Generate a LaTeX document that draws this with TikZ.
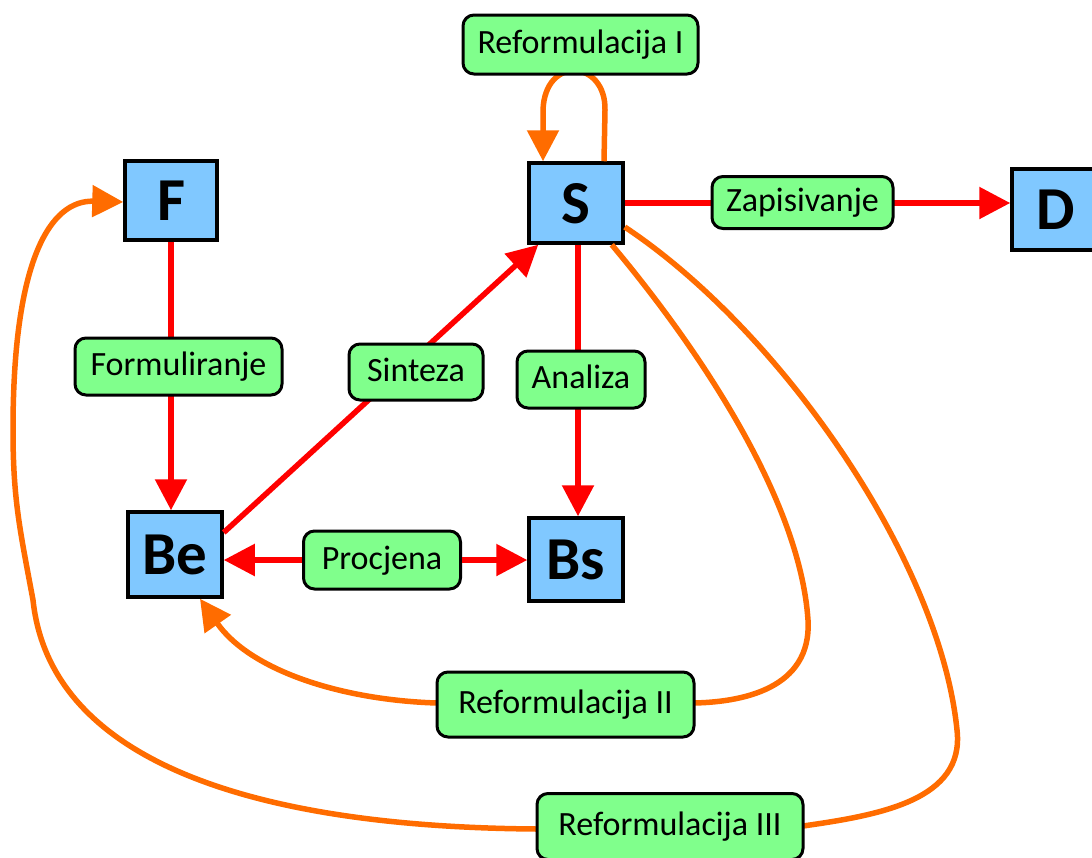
\documentclass[tikz,border=0pt]{standalone}
\usepackage{fontspec}
\setmainfont{Carlito}
\usetikzlibrary{arrows.meta}
\definecolor{boxblue}{RGB}{128,200,255}
\definecolor{labgreen}{RGB}{128,255,140}
\definecolor{arrred}{RGB}{255,0,0}
\definecolor{arrorange}{RGB}{255,108,0}
\tikzset{
  box/.style={draw=black, line width=3.5pt, fill=boxblue, inner sep=0pt,
    font=\bfseries\fontsize{61}{61}\selectfont, text height=40pt, text depth=0pt},
  lab/.style={draw=black, line width=3pt, fill=labgreen, rounded corners=11pt, inner sep=0pt,
    font=\fontsize{34}{37}\selectfont, text height=24pt, text depth=6pt},
  redline/.style={draw=arrred, line width=5.5pt},
  orline/.style={draw=arrorange, line width=5.5pt},
  tipr/.style={-{Triangle[length=31pt,width=31pt]}},
}
\begin{document}
\begin{tikzpicture}[x=1pt,y=-1pt]
\useasboundingbox (0,0) rectangle (1092,857);
% boxes
\node[box, minimum width=92pt, minimum height=79pt] (F) at (171,200.5) {F};
\node[box, minimum width=94pt, minimum height=80pt] (S) at (576,203) {S};
\node[box, minimum width=88pt, minimum height=81pt] (D) at (1056,209.5) {D};
\node[box, minimum width=94pt, minimum height=85pt] (Be) at (175,554.5) {Be};
\node[box, minimum width=94pt, minimum height=83pt] (Bs) at (576,559.5) {Bs};
% red connectors
\draw[redline, tipr] (F.south) -- (F.south |- Be.north);
\draw[redline, tipr] ([yshift=22pt]Be.east) -- ([xshift=11pt]S.south west);
\draw[redline, tipr] ([xshift=2pt]S.south) -- ([xshift=2pt]S.south |- Bs.north);
\draw[redline, tipr] (S.east) -- (D.west |- S.east);
% orange connectors
\draw[orline, tipr] ([xshift=28pt]S.north) -- (605,110) .. controls (606,60) and (545,55) .. (543,110) -- ([xshift=-33pt]S.north);
\draw[orline] ([xshift=-13pt]S.south east) .. controls (700,350) and (800,500) .. (808,620)
   .. controls (812,690) and (740,702) .. (694,703);
\coordinate (r2l) at (437,703);
\draw[orline, tipr] (r2l) .. controls (340,700) and (250,670) .. ([xshift=25pt]Be.south);
\draw[orline] ([yshift=-24pt]S.east) .. controls (780,330) and (940,560) .. (957,730)
   .. controls (965,800) and (880,815) .. (803,826);
\coordinate (r3l) at (537,829);
\draw[orline, tipr] (r3l) .. controls (250,827) and (50,760) .. (33,600)
   .. controls (20,530) and (13,500) .. (13,430)
   .. controls (13,260) and (50,200) .. ([yshift=-1.5pt]F.west);
% labels
\node[lab, minimum width=235pt, minimum height=59pt] (R1) at (580.5,44.5) {Reformulacija I};
\node[lab, minimum width=181pt, minimum height=52pt] (Zap) at (802.5,202.5) {Zapisivanje};
\node[lab, minimum width=207pt, minimum height=57pt] (Form) at (178.5,366.5) {Formuliranje};
\node[lab, minimum width=134pt, minimum height=56pt] (Sin) at (416,372) {Sinteza};
\node[lab, minimum width=128pt, minimum height=57pt] (Ana) at (581,379.5) {Analiza};
\node[lab, minimum width=157pt, minimum height=58pt] (Proc) at (382,560) {Procjena};
\draw[redline, tipr] (Proc.west) -- (Be.east |- Proc.west);
\draw[redline, tipr] (Proc.east) -- (Bs.west |- Proc.east);
\node[lab, minimum width=257pt, minimum height=65pt] (R2) at (565.5,704.5) {Reformulacija II};
\node[lab, minimum width=266pt, minimum height=66pt] (R3) at (670,826.5) {Reformulacija III};
\end{tikzpicture}
\end{document}
